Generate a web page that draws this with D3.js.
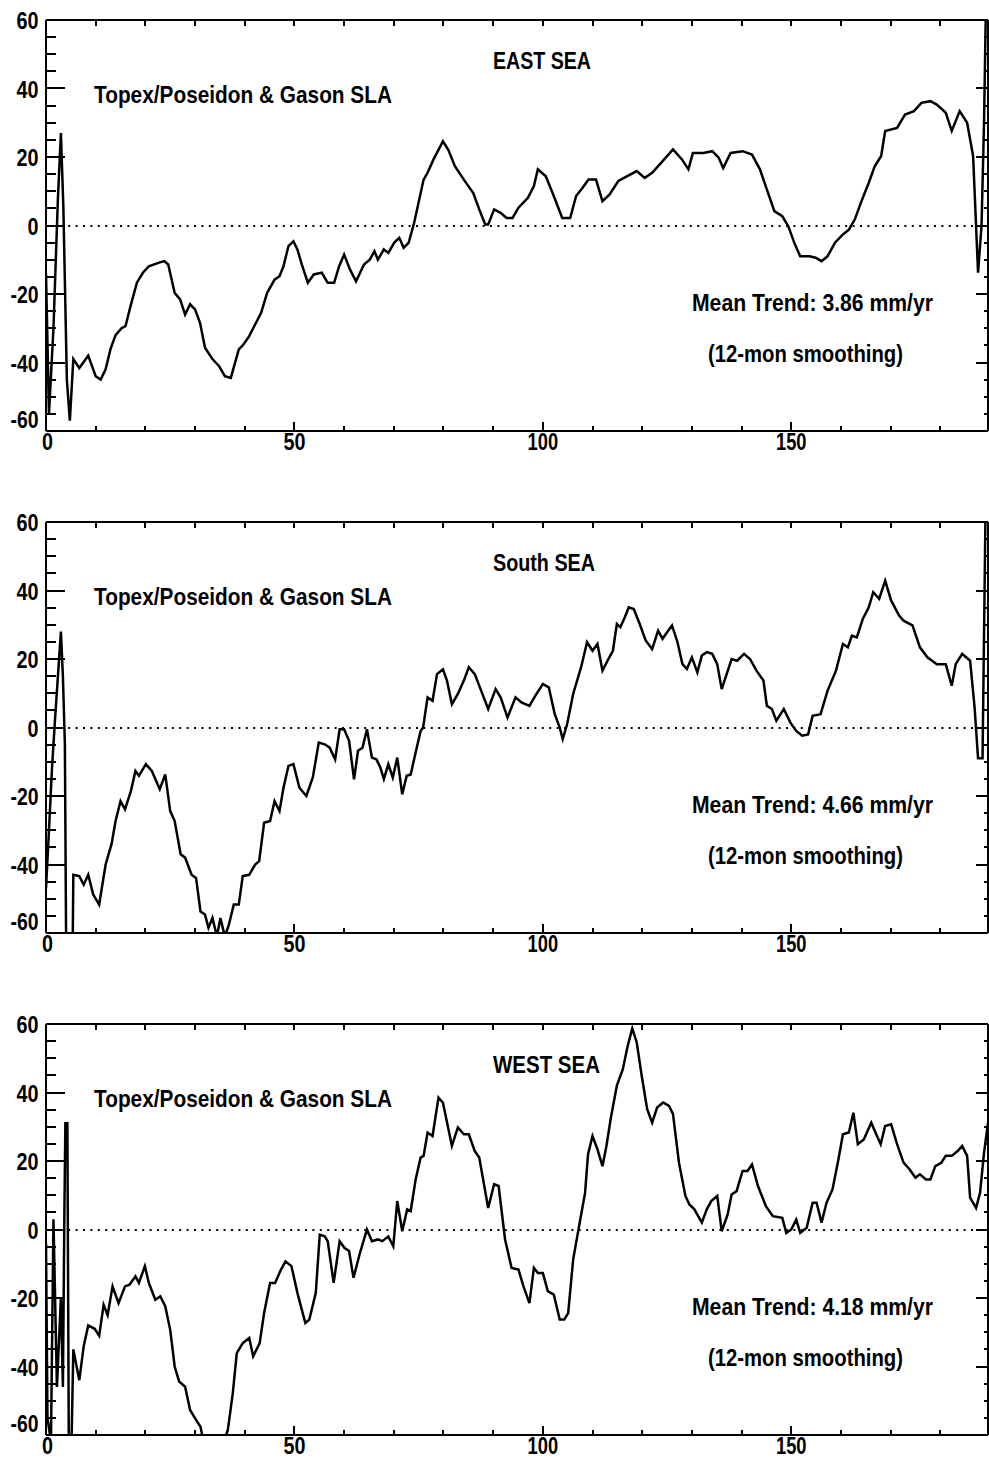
<!DOCTYPE html>
<html><head><meta charset="utf-8">
<script src="https://cdn.jsdelivr.net/npm/d3@7"></script>
<style>html,body{margin:0;padding:0;background:#fff;}svg{display:block}</style>
</head><body>
<script>
// ---- data: [month, SLA (mm)] ----
const eastSeries = [[0,-14],[0.6,-55],[1.5,-30],[2.4,8],[3,27],[3.5,5],[4.2,-45],[4.8,-57],[5.5,-39],[6.7,-41.6],[8.5,-38],[10,-44],[11,-45],[12,-42],[13,-36],[14,-32],[15.2,-30],[16,-29.4],[17,-23.6],[18.3,-16.7],[19.5,-13.8],[20.7,-11.9],[22.6,-10.9],[23.8,-10.4],[24.6,-11.4],[25.9,-19.7],[27,-21.6],[28,-26],[29,-23],[30,-24.5],[31,-28.4],[32,-35.7],[33.5,-39],[34.8,-41],[36,-44],[37.2,-44.5],[38.8,-36.2],[39.6,-35],[40.9,-32.3],[41.7,-30],[43.3,-25.5],[44.5,-19.7],[46,-15.8],[47,-14.8],[47.8,-11.9],[48.8,-6],[49.8,-4.6],[50.6,-7],[51.5,-11.4],[52.7,-16.7],[53.9,-14.3],[55.5,-13.8],[56.7,-16.7],[58,-16.7],[59,-11.9],[60,-8.5],[61.2,-12.9],[62.4,-16.3],[64,-11.4],[65.2,-9.9],[66.1,-7.5],[66.8,-10],[68,-7],[68.9,-8],[70.1,-5],[71.1,-3.6],[72,-6.5],[73,-5],[74.1,0.8],[76,13.4],[76.8,15.4],[78,19.3],[79.9,24.6],[81,22],[82.3,17.3],[84.1,13.4],[86,9.5],[87.2,4.7],[88.4,0.3],[89,0.3],[90.2,4.7],[91.5,3.7],[92.7,2.2],[93.9,2.2],[95.1,5.2],[97,8.1],[98.2,11.5],[99,16.4],[100.6,14.4],[102.2,8.6],[103.9,2.2],[105.5,2.2],[106.7,8.6],[108,11],[109.2,13.4],[110.7,13.4],[112,7.1],[113.4,9],[115.2,13],[117,14.4],[118.9,15.9],[120.5,13.9],[122,15.4],[123.8,18.3],[126.2,22.2],[128,19.3],[129.3,16.4],[130.2,21.2],[132.3,21.2],[134.1,21.7],[135.4,19.8],[136.3,16.8],[137.8,21.2],[140.2,21.7],[142.1,20.7],[143.7,16.4],[145.1,10.5],[146.6,4.2],[148.2,2.7],[149.4,-0.2],[150.6,-5],[151.8,-9],[153.7,-9],[154.9,-9.4],[156.1,-10.4],[157.3,-9],[158.8,-5],[160.4,-2.6],[161.6,-1.2],[162.8,1.8],[164,6.6],[165.6,12.5],[166.8,17.3],[168.1,20.3],[168.9,27.6],[171.3,28.5],[172.9,32.4],[174.7,33.4],[176.2,35.8],[178,36.3],[179.3,35.3],[181.1,32.9],[182.3,27.6],[183.9,33.4],[185.4,30],[186.6,20.3],[187.6,-13.8],[188.3,0],[188.8,30],[189.3,75]];

const southSeries = [[0,-47],[0.6,-30],[1.2,-12],[1.8,2],[2.4,15],[3,28],[3.4,15],[3.8,-5],[4.1,-75],[5.3,-75],[5.5,-43],[6.7,-43.4],[7.6,-45.9],[8.5,-43],[9.5,-48.8],[10.7,-51.7],[12,-40],[13.2,-34],[14,-27.3],[15,-21.5],[15.9,-23.9],[17.1,-18.5],[18,-12.7],[18.7,-14.1],[20.1,-10.7],[21.3,-12.7],[22.9,-18],[24,-13.7],[25,-24.4],[25.9,-27.3],[27.1,-37],[28,-38],[29.3,-43],[30.2,-43.9],[31.1,-53.7],[32,-54.6],[32.7,-58.5],[33.5,-55.6],[34.4,-61],[35.1,-55.6],[36,-61],[36.8,-57.6],[37.8,-51.7],[38.8,-51.7],[39.6,-43.4],[40.9,-43],[42.1,-40],[42.9,-39],[43.9,-27.8],[45.1,-27.3],[46,-21.5],[47,-24.4],[47.8,-17.6],[48.8,-11.2],[49.8,-10.7],[51,-17.6],[52.4,-20],[53.7,-14.6],[54.9,-4.4],[56.1,-4.9],[57.1,-5.9],[58.2,-9.3],[59.1,-0.5],[60,-0.5],[61,-3.9],[62,-15.1],[62.8,-6.8],[63.7,-5.9],[64.6,-0.5],[65.6,-8.8],[66.5,-9.3],[67.3,-11.7],[68,-15.1],[68.9,-10.7],[69.8,-14.6],[70.7,-8.8],[71.7,-19.5],[72.6,-14.1],[73.4,-13.7],[74.4,-7.3],[75.4,-1],[75.9,0],[76.8,8.8],[77.8,7.8],[78.7,15.6],[79.9,17],[80.7,13.7],[81.7,6.8],[82.9,9.8],[84.1,13.7],[85.1,17.6],[86.3,15.6],[87.6,10.7],[89,5.4],[90.5,11.2],[91.5,8.8],[92.9,2.9],[94.5,8.8],[95.7,7.3],[97.3,6.3],[98.5,9.3],[100,12.7],[101.2,11.7],[102.4,3.9],[103.4,0],[104,-3.4],[104.9,1],[106.1,9.8],[107.7,17.6],[108.9,24.9],[110,22.4],[111,24.4],[112,16.6],[113.2,20],[114.1,22.4],[114.9,30.2],[115.6,29.3],[116.5,32.2],[117.3,35.1],[118.3,34.6],[119.5,30.2],[120.7,25.4],[122,22.9],[123.2,28.3],[124.1,25.9],[125,27.8],[126,29.8],[127.1,24.9],[128.1,18.5],[129,17.1],[130,20.5],[131.1,16.1],[132,21],[133,22],[134.1,21.5],[135.1,18.5],[136,11.2],[137,15.6],[138,20],[139.1,19.5],[140.5,21.5],[141.7,20],[143,16.6],[144.4,13.7],[145.1,6.3],[146.1,5.4],[147,2],[148.5,5.4],[149.8,1.5],[151,-1],[152.2,-2.4],[153.4,-2],[154.3,3.4],[155.9,3.9],[157.3,10.7],[159,16.6],[160.4,24.4],[161.4,23.4],[162.2,26.8],[163.2,26.3],[164.4,31.7],[165.6,35.1],[166.5,39.5],[167.7,37.6],[168.9,42.9],[170.1,37.1],[171.7,32.7],[172.6,31.2],[174.4,29.8],[175.9,23.4],[177.4,20.5],[179.3,18.5],[181.1,18.5],[182.3,12.2],[183.1,18.5],[184.4,21.5],[186,19.5],[186.9,5.9],[187.6,-9],[188.5,-9],[189.2,75]];

const westSeries = [[0,-4],[0.3,-55],[1,-62],[1.5,3],[2.2,-46],[3,-20],[3.4,-46],[3.7,5],[3.9,31],[4.3,31],[4.6,-65],[5.1,-65],[5.5,-35],[6.7,-44],[7.6,-34],[8.5,-28],[9.8,-29],[10.7,-31],[11.6,-22],[12.4,-25],[13.4,-16.6],[14.6,-21.5],[15.9,-16.6],[16.8,-16.1],[18,-13.7],[18.7,-15.6],[19.9,-10.7],[20.7,-15.6],[22,-20.5],[23,-19.5],[24,-22.4],[25,-29.3],[25.9,-40],[26.8,-44.4],[28,-45.9],[29,-52.7],[30.2,-55.6],[31.1,-57.6],[31.7,-62],[35,-64],[36,-61],[36.6,-58.5],[37.6,-47.8],[38.4,-36.1],[39.6,-33.2],[40.9,-31.7],[41.7,-37],[43,-33.2],[43.9,-24.4],[45.1,-15.6],[46.1,-15.6],[47.3,-11.7],[48.2,-9.3],[49.4,-10.7],[50.6,-18.5],[52.2,-27.3],[53,-26.3],[54.3,-18.5],[55.1,-1.5],[56.1,-2],[56.7,-3.4],[57.9,-15.6],[59.1,-3.4],[60.1,-5.4],[61,-6.3],[61.9,-14.1],[63.2,-6.8],[64.6,0],[65.6,-3.4],[66.8,-2.9],[67.7,-3.4],[68.9,-2],[69.9,-4.9],[70.7,8.3],[71.7,-0.5],[72.7,5.9],[73.4,5.4],[74.4,14.6],[75.4,21],[76,21.5],[76.8,28.3],[77.8,27.3],[79,38.5],[79.9,37],[81.7,24.4],[82.9,29.8],[84.1,27.8],[85.1,27.8],[86.3,22.9],[87.2,21],[89,6.3],[90.2,13.2],[91.1,12.7],[92.4,-2.9],[93.7,-11.2],[95.1,-11.7],[96.1,-16.6],[97.3,-21.5],[98.2,-11.2],[99,-12.7],[100,-12.7],[101,-18],[102.2,-19],[103.4,-26.3],[104.3,-26.3],[105.1,-24.4],[106.1,-8.8],[107.3,1],[108.5,10.7],[109.1,22],[110,27.3],[111,23.4],[112,18.5],[112.8,24.4],[113.7,32.7],[114.9,42],[116.1,46.8],[117.1,53.7],[118,58.7],[118.9,54.6],[119.9,44.9],[121,35.1],[122,31.2],[123,35.6],[124.2,37.1],[125.4,36.1],[126.2,33.7],[127.4,19.5],[128.7,9.8],[129.5,7.3],[130.5,5.9],[132,2],[133,5.9],[133.9,8.3],[135.1,9.8],[136,-0.5],[137.2,4.4],[138,10.2],[139,11.2],[140.2,17.1],[141.2,17.1],[142.1,19],[143.3,12.7],[144.9,6.8],[146.3,3.9],[148.2,3.4],[149,-1],[150,0],[151,2.9],[151.8,-1],[153.1,0.5],[154.3,7.8],[155.1,7.8],[156.1,2],[157.1,7.8],[158.3,11.7],[159.5,20.5],[160.4,27.8],[161.6,28.3],[162.5,34.1],[163.4,24.9],[164.6,26.3],[166.1,31.2],[167.1,27.8],[168,24.9],[168.9,30.2],[170.1,30.7],[171.3,24.9],[172.6,19.5],[173.8,17.6],[175,15.1],[175.9,16.1],[177.1,14.6],[178,14.6],[179,18.5],[180.2,19.5],[181.1,21.5],[182.3,21.5],[183.5,22.9],[184.4,24.4],[185.4,21.5],[186,9.3],[187.2,6.3],[188,10.7],[188.8,22.4],[189.6,31.2]];

const panelTitles = ["EAST SEA", "South SEA", "WEST SEA"];
const sourceLabel = "Topex/Poseidon & Gason SLA";
const trendLabels = ["Mean Trend: 3.86 mm/yr", "Mean Trend: 4.66 mm/yr", "Mean Trend: 4.18 mm/yr"];
const smoothLabel = "(12-mon smoothing)";
const xTickLabels = [0, 50, 100, 150];
const yTickLabels = [60, 40, 20, 0, -20, -40, -60];

// ---- drawing ----
const W = 989, H = 1459;
const FONT = '"Liberation Sans",Arial,sans-serif';
const left = 46, right = 988, plotH = 411, panelStep = 502, firstTop = 20;
const seriesList = [eastSeries, southSeries, westSeries];

// condensed look: force a narrow advance per character
function labelWidth(s) {
  let w = 0;
  for (const c of String(s)) w += c === "-" ? 6 : (c === "1" ? 8.5 : 11);
  return w;
}

const svg = d3.select("body").append("svg").attr("width", W).attr("height", H)
  .style("font-family", FONT).style("font-weight", "bold");

const x = d3.scaleLinear().domain([0, 189.6]).range([left, right]);

seriesList.forEach((series, i) => {
  const top = firstTop + panelStep * i, bottom = top + plotH;
  const y = d3.scaleLinear().domain([-60, 60]).range([bottom, top]);
  const g = svg.append("g");

  g.append("clipPath").attr("id", "clip" + i).append("rect")
    .attr("x", left).attr("y", top).attr("width", right - left).attr("height", plotH);

  // zero dotted line
  g.append("line").attr("x1", x(0)).attr("x2", x(189.6)).attr("y1", Math.round(y(0))).attr("y2", Math.round(y(0)))
    .attr("stroke", "#000").attr("stroke-width", 2).attr("stroke-dasharray", "2,5.4");

  // frame
  const frame = [[left, top, right, top], [left, bottom, right, bottom], [left, top, left, bottom], [right, top, right, bottom]];
  frame.forEach(f => g.append("line").attr("x1", f[0]).attr("y1", f[1]).attr("x2", f[2]).attr("y2", f[3])
    .attr("stroke", "#000").attr("stroke-width", 2));

  // x ticks
  d3.range(10, 190, 10).forEach(v => {
    const xx = Math.round(x(v));
    g.append("line").attr("x1", xx).attr("x2", xx).attr("y1", top).attr("y2", top + 6).attr("stroke", "#000").attr("stroke-width", 2);
    const len = v % 50 === 0 ? 9 : 5;
    g.append("line").attr("x1", xx).attr("x2", xx).attr("y1", bottom).attr("y2", bottom - len).attr("stroke", "#000").attr("stroke-width", 2);
  });
  // y ticks
  d3.range(-55, 60, 5).forEach(v => {
    const yy = Math.round(y(v));
    const major = v % 20 === 0;
    g.append("line").attr("x1", left).attr("x2", left + (major ? 19 : 10)).attr("y1", yy).attr("y2", yy).attr("stroke", "#000").attr("stroke-width", 2);
    g.append("line").attr("x1", right).attr("x2", right - (major ? 12 : 4)).attr("y1", yy).attr("y2", yy).attr("stroke", "#000").attr("stroke-width", 2);
  });

  // data line
  g.append("path").datum(series)
    .attr("clip-path", `url(#clip${i})`)
    .attr("fill", "none").attr("stroke", "#000").attr("stroke-width", 2.5).attr("stroke-linejoin", "miter")
    .attr("d", d3.line().x(d => x(d[0])).y(d => y(d[1])));

  // tick labels
  yTickLabels.forEach(v => {
    const by = v === -60 ? y(v) - 3 : y(v) + 9;
    g.append("text").attr("x", 38.5).attr("y", by).attr("text-anchor", "end")
      .attr("font-size", 24).attr("textLength", labelWidth(v)).attr("lengthAdjust", "spacingAndGlyphs").text(v);
  });
  xTickLabels.forEach(v => {
    g.append("text").attr("x", x(v) + (v === 0 ? 1.5 : 0)).attr("y", bottom + 19).attr("text-anchor", "middle")
      .attr("font-size", 24).attr("textLength", labelWidth(v)).attr("lengthAdjust", "spacingAndGlyphs").text(v);
  });

  // annotations
  const ann = [
    [panelTitles[i], 493, top + 49, [98, 102, 107][i]],
    [sourceLabel, 94, top + 83, 298],
    [trendLabels[i], 692, top + 291, 241],
    [smoothLabel, 708, top + 342, 195]
  ];
  ann.forEach(a => {
    g.append("text").attr("x", a[1]).attr("y", a[2]).attr("font-size", 24)
      .attr("textLength", a[3]).attr("lengthAdjust", "spacingAndGlyphs").text(a[0]);
  });
});
</script>
</body></html>
